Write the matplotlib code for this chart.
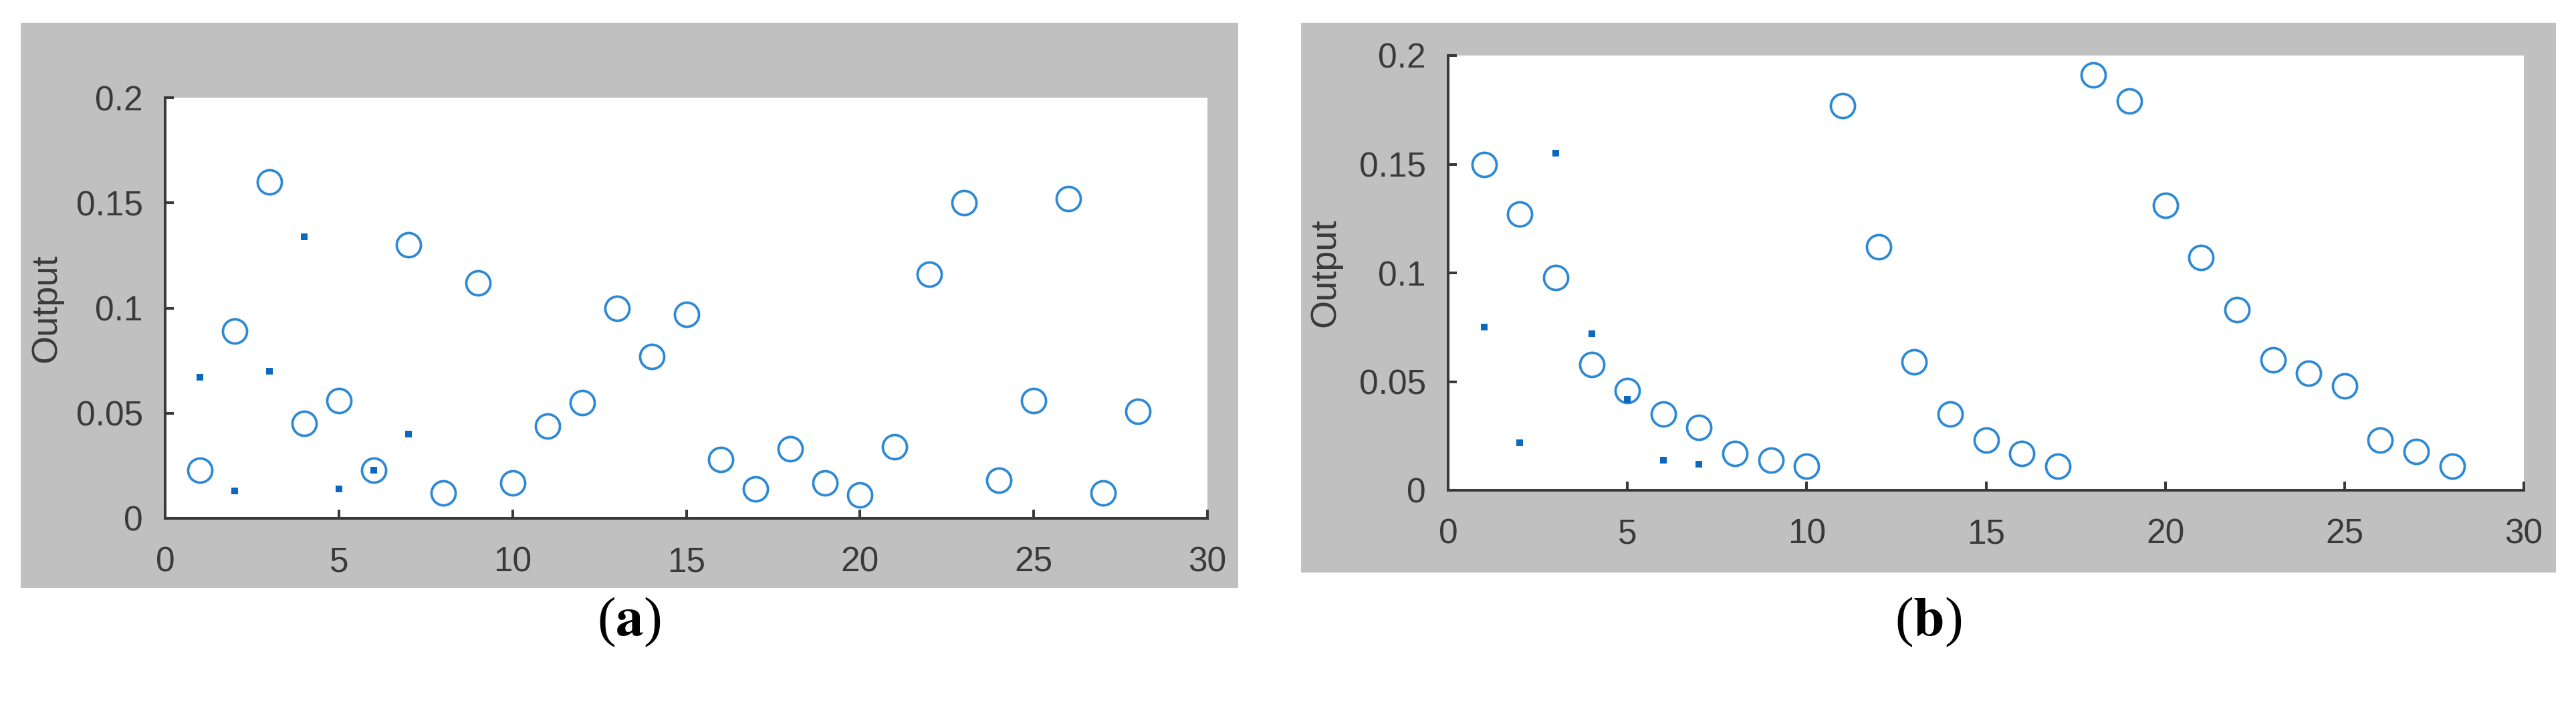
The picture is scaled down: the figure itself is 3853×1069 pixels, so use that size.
import numpy as np
import matplotlib.pyplot as plt
from matplotlib import font_manager
from matplotlib.patches import Rectangle

# sample index
x = np.arange(1, 29)
x_dots = np.arange(1, 8)

# panel (a): circles and dots
out_a = [0.023, 0.089, 0.160, 0.045, 0.056, 0.023, 0.130, 0.012, 0.112, 0.017,
         0.044, 0.055, 0.100, 0.077, 0.097, 0.028, 0.014, 0.033, 0.017, 0.011,
         0.034, 0.116, 0.150, 0.018, 0.056, 0.152, 0.012, 0.051]
dots_a = [0.067, 0.013, 0.070, 0.134, 0.014, 0.023, 0.040]

# panel (b): circles and dots
out_b = [0.150, 0.127, 0.098, 0.058, 0.046, 0.035, 0.029, 0.017, 0.014, 0.011,
         0.177, 0.112, 0.059, 0.035, 0.023, 0.017, 0.011, 0.191, 0.179, 0.131,
         0.107, 0.083, 0.060, 0.054, 0.048, 0.023, 0.018, 0.011]
dots_b = [0.075, 0.022, 0.155, 0.072, 0.042, 0.014, 0.012]

xticks = [0, 5, 10, 15, 20, 25, 30]
yticks = [0, 0.05, 0.1, 0.15, 0.2]
yticklabels = ['0', '0.05', '0.1', '0.15', '0.2']
panel_labels = ['a', 'b']

# tick numbers in the picture look condensed, use the narrow face if present
names = {f.name for f in font_manager.fontManager.ttflist}
tick_font = 'Liberation Sans Narrow' if 'Liberation Sans Narrow' in names else 'Liberation Sans'
tick_size = 40 if tick_font == 'Liberation Sans Narrow' else 37

W, H = 3853, 1069
fig = plt.figure(figsize=(W / 100, H / 100), dpi=100)
fig.patch.set_facecolor('white')

gray = '#c0c0c0'
ink = '#3a3a3a'
circ_col = '#2e89d4'
dot_col = '#0a68bf'


def px_rect(l, t, r, b):
    return [l / W, 1 - b / H, (r - l) / W, (b - t) / H]


# gray backgrounds (MATLAB figure color)
for l, t, r, b in [(31, 34, 1852, 879), (1946, 34, 3823, 856)]:
    fig.patches.append(Rectangle((l / W, 1 - b / H), (r - l) / W, (b - t) / H,
                                 transform=fig.transFigure, facecolor=gray,
                                 edgecolor='none', zorder=-10))

axes_px = [(247, 146, 1806, 775), (2166, 83, 3775, 733)]
circles = [out_a, out_b]
dots = [dots_a, dots_b]
label_x = [941, 2884]

for i in range(2):
    ax = fig.add_axes(px_rect(*axes_px[i]), zorder=5)
    ax.set_facecolor('white')
    ax.plot(x, circles[i], 'o', ls='none', mfc='none', mec=circ_col,
            ms=26, mew=2.7, zorder=3)
    ax.plot(x_dots, dots[i], 's', ls='none', color=dot_col, ms=7,
            mew=0, zorder=4)
    ax.set_xlim(0, 30)
    ax.set_ylim(0, 0.2)
    ax.set_xticks(xticks)
    ax.set_yticks(yticks)
    ax.set_yticklabels(yticklabels)
    for s in ['top', 'right']:
        ax.spines[s].set_visible(False)
    for s in ['left', 'bottom']:
        ax.spines[s].set_color(ink)
        ax.spines[s].set_linewidth(2.9)
    ax.tick_params(direction='in', length=9.5, width=2.9, color=ink,
                   labelcolor=ink, labelsize=tick_size)
    ax.tick_params(axis='y', pad=24)
    ax.tick_params(axis='x', pad=30)
    for lab in ax.get_xticklabels() + ax.get_yticklabels():
        lab.set_family(tick_font)
    ax.text(-0.114, 0.5, 'Output', transform=ax.transAxes, rotation=90,
            ha='center', va='center', fontsize=39, color=ink,
            family='Liberation Sans')
    fig.text(label_x[i] / W, 1 - 930 / H,
             r'($\mathbf{' + panel_labels[i] + r'}$)',
             ha='center', va='center', fontsize=60, color='black',
             family='Liberation Serif', math_fontfamily='stix')

fig.savefig('out.png', dpi=100)
